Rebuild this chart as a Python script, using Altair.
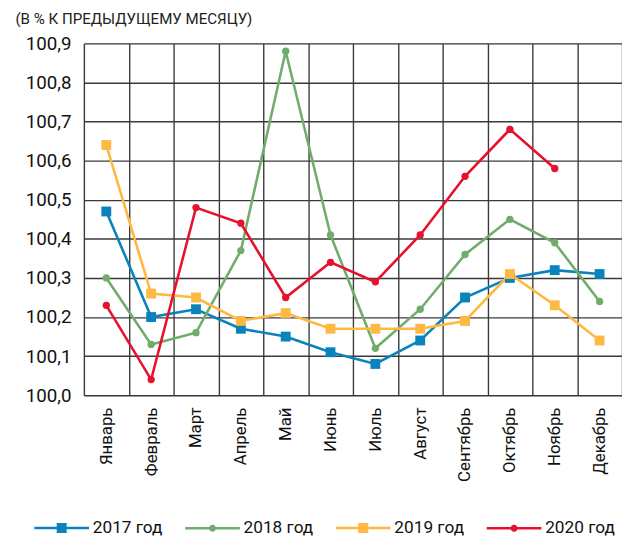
import altair as alt
import pandas as pd

months = ["Январь", "Февраль", "Март", "Апрель", "Май", "Июнь", "Июль",
          "Август", "Сентябрь", "Октябрь", "Ноябрь", "Декабрь"]
series_names = ["2017 год", "2018 год", "2019 год", "2020 год"]
v2017 = [100.47, 100.20, 100.22, 100.17, 100.15, 100.11, 100.08, 100.14, 100.25, 100.30, 100.32, 100.31]
v2018 = [100.30, 100.13, 100.16, 100.37, 100.88, 100.41, 100.12, 100.22, 100.36, 100.45, 100.39, 100.24]
v2019 = [100.64, 100.26, 100.25, 100.19, 100.21, 100.17, 100.17, 100.17, 100.19, 100.31, 100.23, 100.14]
v2020 = [100.23, 100.04, 100.48, 100.44, 100.25, 100.34, 100.29, 100.41, 100.56, 100.68, 100.58]
y_ticks = [100.0, 100.1, 100.2, 100.3, 100.4, 100.5, 100.6, 100.7, 100.8, 100.9]

colors = ["#0A83BD", "#70AD6C", "#FDB942", "#E8112D"]
square_series = ["2017 год", "2019 год"]
circle_series = ["2018 год", "2020 год"]

rows = []
for name, vals in zip(series_names, [v2017, v2018, v2019, v2020]):
    for i, v in enumerate(vals):
        rows.append({"month": months[i], "series": name, "value": v, "order": i})
df = pd.DataFrame(rows)

FONT = "Roboto"
sq = "M-1.85,0H1.85M-0.25,-0.25H0.25V0.25H-0.25Z"
ci = "M-1.85,0H1.85M0.15,0A0.15,0.15,0,1,1,-0.15,0A0.15,0.15,0,1,1,0.15,0Z"
legend_shapes = [sq, ci, sq, ci]

x_enc = alt.X("month:N", sort=months, title=None,
              scale=alt.Scale(type="band", paddingInner=0, paddingOuter=0),
              axis=alt.Axis(labelAngle=-90, ticks=False, domain=False, grid=True,
                            tickBand="extent", gridColor="#3a3a3a", gridWidth=1.4,
                            labelFont=FONT, labelFontSize=17, labelColor="#111",
                            labelPadding=12))
y_enc = alt.Y("value:Q", title=None,
              scale=alt.Scale(domain=[100.0, 100.9], nice=False, zero=False),
              axis=alt.Axis(values=y_ticks, ticks=False, domain=False, grid=True,
                            gridColor="#3a3a3a", gridWidth=1.4,
                            labelExpr="replace(format(datum.value, '.1f'), '.', ',')",
                            labelFont=FONT, labelFontSize=19, labelColor="#111",
                            labelPadding=13))

leg = alt.Legend(
    title=None, orient="none", legendX=-39, legendY=475, direction="horizontal",
    columns=4, symbolSize=900, symbolStrokeWidth=2.6, symbolOpacity=1,
    labelFont=FONT, labelFontSize=17.5, labelColor="#111", columnPadding=17, labelOffset=15,
)
cscale = alt.Scale(domain=series_names, range=colors)

base = alt.Chart(df)
lines = base.mark_line(strokeWidth=2.6).encode(
    x=x_enc, y=y_enc, color=alt.Color("series:N", scale=cscale, legend=leg), order="order:Q")
squares = base.transform_filter(
    alt.FieldOneOfPredicate(field="series", oneOf=square_series)
).mark_point(filled=True, opacity=1, shape="square", size=100).encode(
    x=x_enc, y=y_enc, color=alt.Color("series:N", scale=cscale, legend=leg))
circles = base.transform_filter(
    alt.FieldOneOfPredicate(field="series", oneOf=circle_series)
).mark_point(filled=True, opacity=1, shape="circle", size=55).encode(
    x=x_enc, y=y_enc, color=alt.Color("series:N", scale=cscale, legend=leg))

legend_layer = base.transform_filter("false").mark_point(
    filled=True, opacity=1, strokeWidth=2.6).encode(
    color=alt.Color("series:N", scale=cscale, legend=leg),
    stroke=alt.Stroke("series:N", scale=cscale, legend=leg),
    shape=alt.Shape("series:N", scale=alt.Scale(domain=series_names, range=legend_shapes), legend=leg),
)

chart = alt.layer(lines, squares, circles, legend_layer).properties(
    width=546, height=357,
    padding={"left": 7, "top": 0, "right": 0, "bottom": 0},
    title=alt.TitleParams("(В % К ПРЕДЫДУЩЕМУ МЕСЯЦУ)", anchor="start", frame="bounds",
                          font=FONT, fontSize=15.3, fontWeight="normal", color="#222",
                          offset=7, dx=-10),
).configure_view(stroke="#111", strokeWidth=2).configure(background="white")

chart.save("out.html", embed_options={"renderer": "svg", "actions": False})
